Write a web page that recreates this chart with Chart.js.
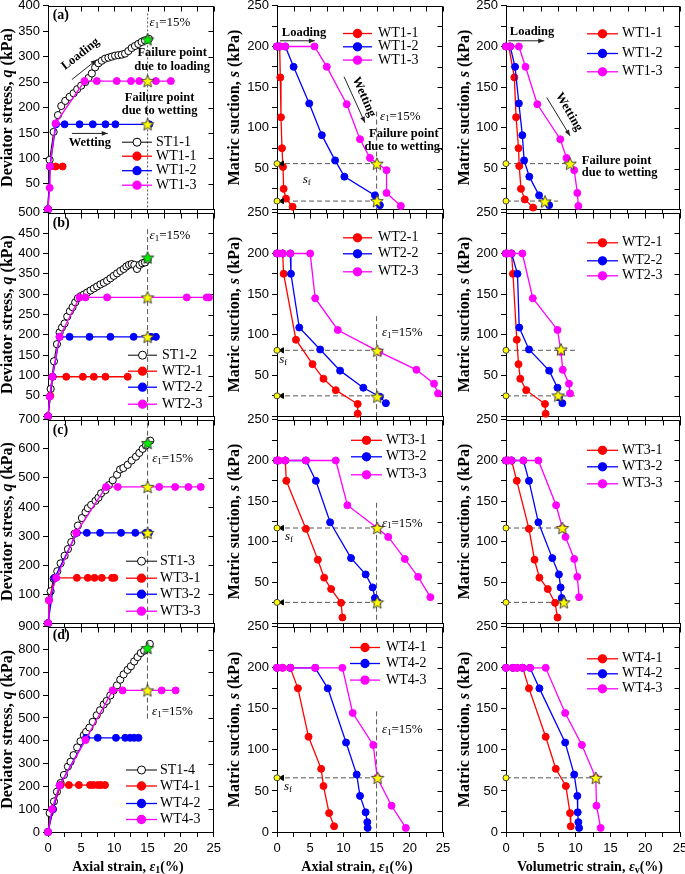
<!DOCTYPE html>
<html><head><meta charset="utf-8">
<script src="https://cdn.jsdelivr.net/npm/chart.js@4.4.1/dist/chart.umd.min.js"></script>
<style>html,body{margin:0;padding:0;background:#fff}body{position:relative;width:685px;height:874px;overflow:hidden}canvas{position:absolute}</style>
</head><body>
<script>
// ---------------- data ----------------
const strainMax = 25, strainStep = 2.5, strainLabelStep = 5;
const qMax = [400, 500, 700, 900];
const qStep = [50, 50, 100, 100];
const sMax = 250, sStep = 25, sLabelStep = 50;
const stNames = ['ST1-1', 'ST1-2', 'ST1-3', 'ST1-4'];
const wtNames = [['WT1-1','WT1-2','WT1-3'],['WT2-1','WT2-2','WT2-3'],['WT3-1','WT3-2','WT3-3'],['WT4-1','WT4-2','WT4-3']];

// (a) deviator stress vs axial strain
const a_q_ST  = [[0,0],[0.25,97],[0.85,152],[1.5,185],[2.0,203],[2.6,213],[3.25,221],[3.85,228],[4.4,236],[5.0,243],[5.6,250],[6.1,258],[6.6,267],[7.1,279],[7.6,287],[8.1,292],[8.6,296],[9.1,298],[9.6,300],[10.1,302],[10.6,303],[11.1,304],[11.6,306],[12.1,311],[12.6,317],[13.1,321],[13.6,325],[14.1,329],[14.6,332],[15.2,335]];
const a_q_WT1 = [[0,0],[0.3,84],[1.15,84],[2.2,84]];
const a_q_WT2 = [[0,0],[0.3,84],[1.2,167],[2.5,167],[4.75,167],[6.75,167],[8.65,167],[10.15,167],[15.25,167]];
const a_q_WT3 = [[0,0],[0.25,42],[0.3,84],[1.15,169],[5.5,252],[7.35,252],[10.35,252],[12.5,252],[13.75,252],[16.25,252],[18.5,252]];
const a_q_failLoad = [[15,334]];
const a_q_failWet  = [[15,252],[15,167]];
// (a) suction vs axial strain
const a_sa_WT1 = [[0,200],[0.4,200],[0.5,162],[0.6,113],[0.75,75],[0.9,52],[1.0,25],[1.35,13],[2.35,3]];
const a_sa_WT2 = [[0,200],[0.25,200],[1.25,200],[2.5,175],[4.85,130],[6.75,91],[8.75,60],[10.15,40],[14.75,17],[15.5,5]];
const a_sa_WT3 = [[0,200],[0.5,200],[1.25,200],[5.65,200],[7.5,175],[10.5,129],[12.5,86],[14,63],[16.5,48],[16.5,20],[18.65,4]];
const a_sa_fail = [[15.05,56],[15.05,10]];
// (a) suction vs volumetric strain
const a_sv_WT1 = [[0,200],[0.4,200],[1.2,162],[1.45,113],[1.8,75],[1.9,53],[2.15,25],[2.7,12],[3.9,2]];
const a_sv_WT2 = [[0,200],[0.6,200],[1.3,175],[1.85,130],[2.35,91],[2.6,60],[3.35,40],[4.75,17],[6.2,5]];
const a_sv_WT3 = [[0,200],[0.6,200],[1.85,200],[2.8,175],[4.5,129],[7.8,86],[8.7,63],[9.8,48],[10.25,20],[10.4,4]];
const a_sv_fail = [[9.2,56],[5.6,9.5]];
const a_sf = [56, 10];

// (b)
const b_q_ST  = [[0,0],[0.4,67],[0.9,135],[1.35,177],[1.75,206],[2.1,218],[2.5,228],[2.9,245],[3.3,258],[3.7,268],[4.1,280],[4.5,290],[4.9,295],[5.4,299],[5.9,304],[6.4,309],[6.9,314],[7.4,319],[7.9,324],[8.4,328],[8.9,333],[9.4,339],[9.9,345],[10.4,351],[10.9,357],[11.4,362],[11.8,368],[12.2,372],[12.6,374],[13.0,372],[13.4,362],[13.8,372],[14.2,376],[14.6,378],[15.0,385]];
const b_q_WT1 = [[0,0],[0.35,50],[0.7,97],[2.75,97],[5.25,97],[6.9,97],[8.65,97],[12,97]];
const b_q_WT2 = [[0,0],[0.7,97],[1.75,195],[3.25,195],[6.25,195],[9.4,195],[12.9,195],[15.5,195],[16.25,195]];
const b_q_WT3 = [[0,0],[0.25,48],[0.65,97],[1.75,195],[4.75,292],[5.65,292],[8.9,292],[20.9,292],[23.9,292],[24.25,292]];
const b_q_failLoad = [[15,390]];
const b_q_failWet  = [[15,292],[15,195]];
const b_sa_WT1 = [[0,200],[0.85,200],[1.0,175],[2.85,94],[5.35,64],[7.0,46],[8.85,32],[12.15,15],[12.15,3]];
const b_sa_WT2 = [[0,200],[0.85,200],[2.0,200],[2.1,175],[3.35,109],[6.5,82],[9.5,56],[13,35],[15.5,24],[16.4,16]];
const b_sa_WT3 = [[0,200],[0.35,200],[0.85,200],[2.0,200],[5,200],[5.75,145],[9.15,106],[15.4,79],[21,57],[23.65,40],[24.25,28]];
const b_sa_fail = [[15.1,80.5],[15.1,24]];
const b_sv_WT1 = [[0,200],[0.8,200],[1.0,175],[1.55,94],[1.8,64],[2.05,46],[2.9,32],[5.6,15],[5.7,3]];
const b_sv_WT2 = [[0,200],[0.8,200],[1.65,175],[1.9,109],[3.3,82],[6.2,56],[7.4,35],[7.6,23],[8.1,16]];
const b_sv_WT3 = [[0,200],[0.25,200],[0.75,200],[2.35,200],[3.85,145],[7.4,106],[7.9,79],[8.15,57],[9.05,40],[9.2,28]];
const b_sv_fail = [[7.9,82],[7.5,25.5]];
const b_sf = [81, 25];

// (c)
const c_q_ST  = [[0,0],[0.4,110],[0.85,153],[1.4,179],[1.9,206],[2.5,232],[3.0,255],[3.5,279],[4.0,308],[4.5,336],[5.1,362],[5.65,382],[6.0,396],[6.5,407],[7.15,421],[7.6,432],[8.0,447],[8.65,458],[9.15,475],[9.75,492],[10.4,511],[10.85,529],[11.35,534],[12,545],[12.6,560],[13.25,573],[13.75,586],[14.25,600],[14.75,612],[15.4,628]];
const c_q_WT1 = [[0,0],[0.15,79],[1.0,156],[4.35,156],[6.0,156],[7.0,156],[8.1,156],[9.65,156],[10,156]];
const c_q_WT2 = [[0,0],[1.0,156],[4.35,311],[5.85,311],[7.85,311],[11,311],[13.15,311],[14.75,311],[15.2,311]];
const c_q_WT3 = [[0,0],[0.15,79],[1.25,156],[4.25,311],[8.75,469],[10.5,469],[16.75,469],[19.15,469],[21.15,469],[23,469]];
const c_q_failLoad = [[15,620]];
const c_q_failWet  = [[15,469],[15,311]];
const c_sa_WT1 = [[0,200],[0.25,200],[1.25,200],[1.4,175],[4.35,116],[6.15,78],[7.1,56],[8.15,42],[9.65,25],[9.85,7]];
const c_sa_WT2 = [[0,200],[1.25,200],[4.35,200],[5.85,175],[8.0,124],[11.15,80],[13.35,60],[14.4,44],[14.75,31],[15.15,26]];
const c_sa_WT3 = [[0,200],[0.25,200],[1.25,200],[4.35,200],[8.85,200],[10.6,145],[15.1,117],[16.75,106],[19.25,79],[21.25,57],[23.1,32]];
const c_sa_fail = [[15.1,117],[15.1,25.6]];
const c_sv_WT1 = [[0,200],[0.35,200],[0.8,200],[1.55,175],[3.3,116],[4.1,78],[4.8,56],[6.0,42],[7.05,25],[7.4,7]];
const c_sv_WT2 = [[0,200],[0.8,200],[2.5,200],[3.3,175],[4.65,124],[6.65,80],[7.6,60],[7.85,44],[8.0,31],[8.25,26]];
const c_sv_WT3 = [[0,200],[0.25,200],[0.75,200],[2.5,200],[4.65,200],[7.2,145],[8.1,117],[8.55,106],[9.8,79],[10.25,57],[10.5,32]];
const c_sv_fail = [[8.1,117],[8.3,25.6]];
const c_sf = [117, 25.6];

// (d)
const d_q_ST  = [[0,0],[0.25,83],[0.9,134],[1.35,177],[1.9,215],[2.4,250],[3.0,287],[3.4,308],[3.85,337],[4.4,371],[4.9,398],[5.4,425],[5.75,439],[6.25,458],[6.75,483],[7.35,512],[7.85,534],[8.4,559],[8.85,575],[9.4,599],[9.9,621],[10.4,643],[10.9,668],[11.4,691],[12,711],[12.5,727],[13,748],[13.5,767],[14,785],[14.5,795],[15.35,825]];
const d_q_WT1 = [[0,0],[0.75,100],[1.9,206],[3.15,206],[4.65,206],[6.35,206],[6.85,206],[7.5,206],[8.0,206],[8.6,206]];
const d_q_WT2 = [[0,0],[0.75,100],[1.75,204],[5.75,413],[7.5,413],[10.25,413],[11.65,413],[12.4,413],[13,413],[13.65,413]];
const d_q_WT3 = [[0,0],[0.6,100],[1.75,204],[5.65,403],[9.75,621],[11.25,621],[17.15,621],[19.25,621]];
const d_q_failLoad = [[15,807]];
const d_q_failWet  = [[15,621]];
const d_sa_WT1 = [[0,200],[0.85,200],[2,200],[3.15,175],[4.75,116],[6.65,77],[7.0,56],[7.85,23],[8.6,7]];
const d_sa_WT2 = [[0,200],[2,200],[5.75,200],[7.65,175],[10.4,109],[12,70],[12.5,44],[13.35,24],[13.6,12],[13.65,5]];
const d_sa_WT3 = [[0,200],[0.85,200],[2,200],[5.75,200],[9.85,200],[11.4,145],[14.5,106],[15.1,66],[17.25,32],[19.4,5]];
const d_sa_fail = [[15.15,66]];
const d_sv_WT1 = [[0,200],[1.0,200],[1.6,200],[2.4,200],[3.3,175],[5.7,116],[7.15,77],[8.6,56],[9.2,23],[9.3,7]];
const d_sv_WT2 = [[0,200],[1.0,200],[2.4,200],[3.45,200],[4.8,175],[8.5,109],[9.8,70],[10.25,44],[10.3,24],[10.4,12],[10.5,5]];
const d_sv_WT3 = [[0,200],[1.0,200],[1.6,200],[2.4,200],[3.45,200],[5.7,200],[8.5,145],[10.9,106],[12.9,66],[13.0,32],[13.6,5]];
const d_sv_fail = [[12.9,66]];
const d_sf = [66];

// ---------------- styling / layout ----------------
const SERIF = '"Liberation Serif","Times New Roman",serif';
const SANS = '"Liberation Sans",Arial,sans-serif';
const F = (s, st) => (st ? st + ' ' : '') + s + 'px ' + SERIF;
const RED = '#ff0000', BLUE = '#0000ff', MAG = '#ff00ff';
const SCOL = [RED, BLUE, MAG];
const COLS = [{cl:0, cw:225, al:48, ar:214, tx:8}, {cl:225, cw:230, al:277, ar:443, tx:10}, {cl:455, cw:240, al:506, ar:680, tx:10}];
const ROWS = [{t:5, b:212}, {t:212, b:419}, {t:419, b:626}, {t:626, b:832}];

function starImg(fill) {
  const c = document.createElement('canvas'); c.width = c.height = 16;
  const g = c.getContext('2d'); g.beginPath();
  for (let i = 0; i < 10; i++) { const r = i % 2 ? 2.9 : 6.6; const a = -Math.PI/2 + i*Math.PI/5; g.lineTo(8 + r*Math.cos(a), 8.6 + r*Math.sin(a)); }
  g.closePath(); g.fillStyle = fill; g.fill(); g.strokeStyle = '#333'; g.lineWidth = 0.9; g.stroke();
  return c;
}
const STAR_Y = starImg('#ffff00'), STAR_G = starImg('#00ee00');

const eps = [['ε', F(13,'italic')], ['1', F(9), 3], ['=15%', F(13)]];
const sfR = [['s', F(13,'italic')], ['f', F(9), 3]];
const FB = F(12.5, 'bold');
const lab = t => [[t, F(14, 'bold')]];

function drawRuns(ctx, runs, x, y, align, rot) {
  ctx.save(); ctx.translate(x, y); if (rot) ctx.rotate(rot*Math.PI/180);
  let w = 0; runs.forEach(r => { ctx.font = r[1]; w += ctx.measureText(r[0]).width; });
  let cx = align === 'left' ? 0 : align === 'right' ? -w : -w/2;
  ctx.textBaseline = 'middle'; ctx.textAlign = 'left'; ctx.fillStyle = '#000';
  runs.forEach(r => { ctx.font = r[1]; ctx.fillText(r[0], cx, r[2] || 0); cx += ctx.measureText(r[0]).width; });
  ctx.restore();
}

const pts = d => d.map(p => ({x: p[0], y: p[1]}));

function deco(P, C, last) {
  return {
    id: 'deco',
    beforeDatasetsDraw(ch) {
      const {ctx, chartArea: A} = ch; const x = ch.scales.x, y = ch.scales.y;
      ctx.save(); ctx.strokeStyle = '#000'; ctx.lineWidth = 1; ctx.beginPath();
      const L = Math.round(A.left) + 0.5, T = Math.round(A.top) + 0.5, R = Math.round(A.right) - 0.5, B = Math.round(A.bottom) + 0.5;
      ctx.moveTo(L, T); ctx.lineTo(R, T); ctx.lineTo(R, B);
      x.ticks.forEach(t => { const p = Math.round(x.getPixelForValue(t.value)) + 0.5; ctx.moveTo(p, T); ctx.lineTo(p, T + 5); });
      y.ticks.forEach(t => { const p = Math.round(y.getPixelForValue(t.value)) + 0.5; ctx.moveTo(R, p); ctx.lineTo(R - 5, p); });
      ctx.stroke(); ctx.restore();
    },
    afterDatasetsDraw(ch) {
      const {ctx, chartArea: A} = ch; const x = ch.scales.x, y = ch.scales.y;
      ctx.save();
      (P.notes || []).forEach(n => {
        if (n.arrow) {
          const a = n.arrow; const X1 = x.getPixelForValue(a[0]), Y1 = y.getPixelForValue(a[1]), X2 = x.getPixelForValue(a[2]), Y2 = y.getPixelForValue(a[3]);
          ctx.strokeStyle = '#222'; ctx.fillStyle = '#222'; ctx.lineWidth = 1;
          ctx.beginPath(); ctx.moveTo(X1, Y1); ctx.lineTo(X2, Y2); ctx.stroke();
          const an = Math.atan2(Y2 - Y1, X2 - X1), hl = 6, hw = 2.4;
          ctx.beginPath(); ctx.moveTo(X2, Y2);
          ctx.lineTo(X2 - hl*Math.cos(an) + hw*Math.sin(an), Y2 - hl*Math.sin(an) - hw*Math.cos(an));
          ctx.lineTo(X2 - hl*Math.cos(an) - hw*Math.sin(an), Y2 - hl*Math.sin(an) + hw*Math.cos(an));
          ctx.closePath(); ctx.fill();
        } else {
          drawRuns(ctx, n.runs, x.getPixelForValue(n.x), y.getPixelForValue(n.y), n.align || 'center', n.rot || 0);
        }
      });
      // legend
      const lg = P.legend;
      P.series.forEach((s, i) => {
        const yy = lg.top ? A.top + lg.ys[i] : A.bottom - lg.ys[i];
        const x0 = A.left + lg.x0, x1 = A.left + lg.x1;
        ctx.strokeStyle = s.color; ctx.lineWidth = s.open ? 1 : 1.3;
        ctx.beginPath(); ctx.moveTo(x0, yy); ctx.lineTo(x1, yy); ctx.stroke();
        ctx.beginPath(); ctx.arc((x0 + x1)/2, yy, 4, 0, Math.PI*2);
        ctx.fillStyle = s.open ? '#fff' : s.color; ctx.fill(); ctx.stroke();
        drawRuns(ctx, [[s.name, F(14)]], A.left + lg.tx, yy, 'left', 0);
      });
      // axis titles
      drawRuns(ctx, P.ytitle, C.tx, (A.top + A.bottom)/2, 'center', -90);
      if (last) drawRuns(ctx, P.xtitle, (A.left + A.right)/2 - 3, A.bottom + 35, 'center', 0);
      ctx.restore();
    }
  };
}

function panel(P) {
  const C = COLS[P.col], R = ROWS[P.row], last = P.row === 3;
  const xH = last ? 24 : 8, padB = last ? 18 : 0;
  const h = (R.b - R.t) + 10 + xH + padB;
  const cv = document.createElement('canvas');
  cv.width = C.cw; cv.height = h; cv.style.left = C.cl + 'px'; cv.style.top = (R.t - 10) + 'px';
  document.body.appendChild(cv);
  const ds = [];
  (P.starsG || []).length && ds.push({data: pts(P.starsG), showLine: false, pointStyle: STAR_G, pointRadius: 7, clip: false});
  (P.starsY || []).length && ds.push({data: pts(P.starsY), showLine: false, pointStyle: STAR_Y, pointRadius: 7, clip: false});
  if (P.sf) {
    ds.push({data: pts(P.sf.map(s => [0, s])), showLine: false, pointRadius: 3, pointBackgroundColor: '#ffff00', pointBorderColor: '#444', pointBorderWidth: 1, clip: false});
    if (P.sfArrow) ds.push({data: pts(P.sf.map(s => [0.75, s])), showLine: false, pointStyle: 'triangle', rotation: -90, pointRadius: 3, pointBackgroundColor: '#000', pointBorderColor: '#000', clip: false});
  }
  P.series.slice().reverse().forEach(s => {
    ds.push({data: pts(s.data), borderColor: s.color, borderWidth: s.open ? 1 : 1.3,
      pointBackgroundColor: s.open ? '#fff' : s.color, pointBorderColor: s.color, pointBorderWidth: 1,
      pointRadius: s.open ? 3.6 : 3.5, tension: 0, clip: false});
  });
  (P.lines || []).forEach(l => ds.push({data: pts(l.d), borderColor: '#555', borderDash: l.dash || [5, 3], borderWidth: 1, pointRadius: 0, clip: false}));
  const isQ = P.col === 0;
  const ymax = isQ ? qMax[P.row] : sMax, ystep = isQ ? qStep[P.row] : sStep, ylab = isQ ? qStep[P.row] : sLabelStep;
  new Chart(cv, {
    type: 'line',
    data: {datasets: ds},
    options: {
      responsive: false, animation: false, events: [],
      layout: {padding: {top: 10, left: 0, right: C.cw - (C.ar - C.cl), bottom: padB}},
      plugins: {legend: {display: false}, tooltip: {enabled: false}},
      scales: {
        x: {type: 'linear', min: 0, max: strainMax,
          afterFit: s => { s.height = xH; },
          ticks: {stepSize: strainStep, autoSkip: false, maxRotation: 0, minRotation: 0, padding: 4, color: '#000', font: {family: SANS, size: 13},
            callback: v => (last && Math.abs(v % strainLabelStep) < 1e-6) ? String(v) : ''},
          grid: {display: true, drawOnChartArea: false, drawTicks: true, tickLength: 5, color: '#000'},
          border: {display: true, color: '#000', width: 1}},
        y: {type: 'linear', min: 0, max: ymax,
          afterFit: s => { s.width = C.al - C.cl; },
          ticks: {stepSize: ystep, autoSkip: false, padding: 3, color: '#000', font: {family: SANS, size: 13},
            callback: v => (Math.abs(v % ylab) < 1e-6 && (v !== 0 || last)) ? String(v) : ''},
          grid: {display: true, drawOnChartArea: false, drawTicks: true, tickLength: 5, color: '#000'},
          border: {display: true, color: '#000', width: 1}}
      }
    },
    plugins: [deco(P, C, last)]
  });
}

const YQ = [['Deviator stress, ', F(16,'bold')], ['q', F(16,'bold italic')], [' (kPa)', F(16,'bold')]];
const YS = [['Matric suction, ', F(16,'bold')], ['s', F(16,'bold italic')], [' (kPa)', F(16,'bold')]];
const XA = [['Axial strain, ', F(14,'bold')], ['ε', F(14,'bold italic')], ['1', F(10,'bold'), 3], ['(%)', F(14,'bold')]];
const XV = [['Volumetric strain, ', F(14,'bold')], ['ε', F(14,'bold italic')], ['v', F(10,'bold'), 3], ['(%)', F(14,'bold')]];

function qSeries(r, st, w1, w2, w3) {
  return [{name: stNames[r], data: st, color: '#000', open: true}, {name: wtNames[r][0], data: w1, color: RED}, {name: wtNames[r][1], data: w2, color: BLUE}, {name: wtNames[r][2], data: w3, color: MAG}];
}
function sSeries(r, w1, w2, w3) {
  return [{name: wtNames[r][0], data: w1, color: RED}, {name: wtNames[r][1], data: w2, color: BLUE}, {name: wtNames[r][2], data: w3, color: MAG}];
}
const sfLines = (sf, xe) => sf.map((s, i) => ({d: [[0, s], [Array.isArray(xe) ? xe[i] : xe, s]]}));

const PANELS = [
  // row a
  {col:0, row:0, series: qSeries(0, a_q_ST, a_q_WT1, a_q_WT2, a_q_WT3), starsG: a_q_failLoad, starsY: a_q_failWet,
   lines: [{d: [[15,385],[15,0]], dash: [2,2]}], ytitle: YQ,
   legend: {x0:74, x1:104, tx:108, ys:[67,53,38.5,24]},
   notes: [{x:0.7, y:381, runs: lab('(a)'), align:'left'}, {x:15.3, y:367, runs: eps, align:'left'},
     {x:4.9, y:305, runs: [['Loading', FB]], rot:-38}, {arrow:[3.6,255,7.35,294]},
     {x:18.7, y:307, runs: [['Failure point', FB]]}, {x:18.7, y:280, runs: [['due to loading', FB]]},
     {x:16.8, y:220, runs: [['Failure point', FB]]}, {x:16.8, y:193, runs: [['due to wetting', FB]]},
     {x:6.3, y:131, runs: [['Wetting', FB]]}, {arrow:[3.6,149,9.0,149]}]},
  {col:1, row:0, series: sSeries(0, a_sa_WT1, a_sa_WT2, a_sa_WT3), starsY: a_sa_fail, sf: a_sf, sfArrow: true,
   lines: [{d: [[15,120],[15,0]]}, ...sfLines(a_sf, 15)], ytitle: YS,
   legend: {top:true, x0:66, x1:95, tx:101, ys:[27.7,41,54.3]},
   notes: [{x:4.07, y:216.5, runs: [['Loading', FB]]}, {arrow:[0.45,207,5.7,207]},
     {x:13.1, y:138, runs: [['Wetting', FB]], rot:66}, {arrow:[10.1,162.7,13.25,106.3]},
     {x:15.5, y:114.4, runs: eps, align:'left'},
     {x:19.1, y:93, runs: [['Failure point', FB]]}, {x:19.1, y:77, runs: [['due to wetting.', FB]]},
     {x:4.47, y:36.6, runs: sfR}]},
  {col:2, row:0, series: sSeries(0, a_sv_WT1, a_sv_WT2, a_sv_WT3), starsY: a_sv_fail, sf: a_sf,
   lines: sfLines(a_sf, [9.4, 7.5]), ytitle: YS,
   legend: {top:true, x0:81, x1:112, tx:116, ys:[28,47.7,66]},
   notes: [{x:3.74, y:217.7, runs: [['Loading', FB]]}, {arrow:[0.33,207,5.5,207]},
     {x:9.05, y:119.6, runs: [['Wetting', FB]], rot:60}, {arrow:[5.85,137.3,9.2,90.2]},
     {x:10.9, y:60, runs: [['Failure point', FB]], align:'left'}, {x:10.9, y:45, runs: [['due to wetting', FB]], align:'left'}]},
  // row b
  {col:0, row:1, series: qSeries(1, b_q_ST, b_q_WT1, b_q_WT2, b_q_WT3), starsG: b_q_failLoad, starsY: b_q_failWet,
   lines: [{d: [[15,460],[15,0]]}], ytitle: YQ,
   legend: {x0:80, x1:109, tx:114, ys:[61,45,29,12]},
   notes: [{x:0.7, y:473, runs: lab('(b)'), align:'left'}, {x:15.3, y:444, runs: eps, align:'left'}]},
  {col:1, row:1, series: sSeries(1, b_sa_WT1, b_sa_WT2, b_sa_WT3), starsY: b_sa_fail, sf: b_sf, sfArrow: true,
   lines: [{d: [[15,123],[15,0]]}, ...sfLines(b_sf, 15)], ytitle: YS,
   legend: {top:true, x0:66, x1:95, tx:101, ys:[25,41,59]},
   notes: [{x:15.8, y:102.7, runs: eps, align:'left'}, {x:0.95, y:69, runs: sfR}]},
  {col:2, row:1, series: sSeries(1, b_sv_WT1, b_sv_WT2, b_sv_WT3), starsY: b_sv_fail, sf: b_sf,
   lines: sfLines(b_sf, 9.9), ytitle: YS,
   legend: {top:true, x0:81, x1:112, tx:116, ys:[30,48,63]}, notes: []},
  // row c
  {col:0, row:2, series: qSeries(2, c_q_ST, c_q_WT1, c_q_WT2, c_q_WT3), starsG: c_q_failLoad, starsY: c_q_failWet,
   lines: [{d: [[15,690],[15,0]]}], ytitle: YQ,
   legend: {x0:78, x1:109, tx:112, ys:[62,45,29,12]},
   notes: [{x:0.7, y:663, runs: lab('(c)'), align:'left'}, {x:15.7, y:565, runs: eps, align:'left'}]},
  {col:1, row:2, series: sSeries(2, c_sa_WT1, c_sa_WT2, c_sa_WT3), starsY: c_sa_fail, sf: c_sf, sfArrow: true,
   lines: [{d: [[15,148],[15,0]]}, ...sfLines(c_sf, 15)], ytitle: YS,
   legend: {top:true, x0:74, x1:105, tx:109, ys:[20.5,37,55]},
   notes: [{x:15.8, y:123, runs: eps, align:'left'}, {x:1.8, y:106, runs: sfR}]},
  {col:2, row:2, series: sSeries(2, c_sv_WT1, c_sv_WT2, c_sv_WT3), starsY: c_sv_fail, sf: c_sf,
   lines: sfLines(c_sf, 8.7), ytitle: YS,
   legend: {top:true, x0:81, x1:112, tx:116, ys:[30.5,47,64]}, notes: []},
  // row d
  {col:0, row:3, series: qSeries(3, d_q_ST, d_q_WT1, d_q_WT2, d_q_WT3), starsG: d_q_failLoad, starsY: d_q_failWet,
   lines: [{d: [[15,800],[15,490]]}], ytitle: YQ, xtitle: XA,
   legend: {x0:78, x1:109, tx:112, ys:[62,46,28.5,12.5]},
   notes: [{x:0.7, y:861, runs: lab('(d)'), align:'left'}, {x:15.7, y:526, runs: eps, align:'left'}]},
  {col:1, row:3, series: sSeries(3, d_sa_WT1, d_sa_WT2, d_sa_WT3), starsY: d_sa_fail, sf: d_sf, sfArrow: true,
   lines: [{d: [[15,147],[15,0]]}, ...sfLines(d_sf, 15)], ytitle: YS, xtitle: XA,
   legend: {top:true, x0:73, x1:103, tx:109, ys:[20.7,36.7,53.3]},
   notes: [{x:15.8, y:125, runs: eps, align:'left'}, {x:1.65, y:55, runs: sfR}]},
  {col:2, row:3, series: sSeries(3, d_sv_WT1, d_sv_WT2, d_sv_WT3), starsY: d_sv_fail, sf: d_sf,
   lines: sfLines(d_sf, 13.8), ytitle: YS, xtitle: XV,
   legend: {top:true, x0:81, x1:112, tx:116, ys:[32,47,62]}, notes: []}
];
PANELS.forEach(panel);
</script>
</body></html>
